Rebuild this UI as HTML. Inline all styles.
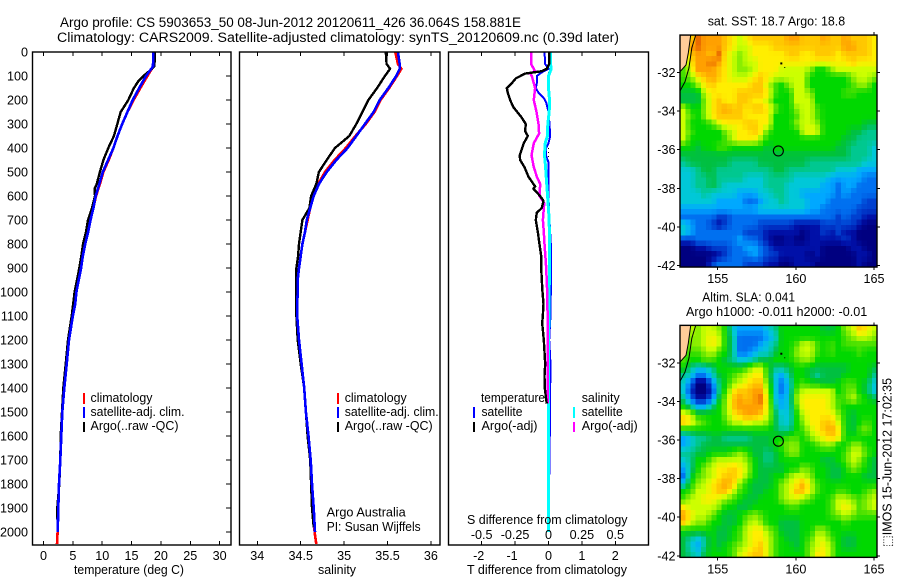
<!DOCTYPE html>
<html>
<head>
<meta charset="utf-8">
<title>Argo profile CS 5903653_50</title>
<style>
html,body{margin:0;padding:0;background:#fff;}
svg{display:block;}
text{font-family:"Liberation Sans",sans-serif;font-size:12.6px;fill:#000;}
.t{font-size:13.4px;}
</style>
</head>
<body>
<svg id="chart" xmlns="http://www.w3.org/2000/svg" width="900" height="580" viewBox="0 0 900 580">
<rect x="0" y="0" width="900" height="580" fill="#fff"/>
<text class="t" x="60" y="27" textLength="461" lengthAdjust="spacingAndGlyphs">Argo profile: CS 5903653_50 08-Jun-2012 20120611_426 36.064S 158.881E</text>
<text class="t" x="57" y="42" textLength="562" lengthAdjust="spacingAndGlyphs">Climatology: CARS2009. Satellite-adjusted climatology: synTS_20120609.nc (0.39d later)</text>
<g id="maps"></g>
<g id="plots"></g>

<text x="74" y="574" textLength="110" lengthAdjust="spacingAndGlyphs">temperature (deg C)</text>
<text x="318" y="574" textLength="38" lengthAdjust="spacingAndGlyphs">salinity</text>
<text x="467" y="574" textLength="160" lengthAdjust="spacingAndGlyphs">T difference from climatology</text>
<text x="467" y="524" textLength="160.5" lengthAdjust="spacingAndGlyphs">S difference from climatology</text>

<g>
<rect x="83" y="393" width="2" height="11" fill="#f00"/>
<rect x="83" y="407" width="2" height="11" fill="#00f"/>
<rect x="83" y="422" width="2" height="10" fill="#000"/>
<text x="90.5" y="402" textLength="62" lengthAdjust="spacingAndGlyphs">climatology</text>
<text x="90.5" y="416" textLength="94" lengthAdjust="spacingAndGlyphs">satellite-adj. clim.</text>
<text x="90.5" y="430" textLength="88" lengthAdjust="spacingAndGlyphs">Argo(..raw -QC)</text>
</g>
<g>
<rect x="337" y="393" width="2" height="11" fill="#f00"/>
<rect x="337" y="407" width="2" height="11" fill="#00f"/>
<rect x="337" y="422" width="2" height="10" fill="#000"/>
<text x="344.7" y="402" textLength="62" lengthAdjust="spacingAndGlyphs">climatology</text>
<text x="344.7" y="416" textLength="94" lengthAdjust="spacingAndGlyphs">satellite-adj. clim.</text>
<text x="344.7" y="430" textLength="88" lengthAdjust="spacingAndGlyphs">Argo(..raw -QC)</text>
<text x="326.7" y="516.5" textLength="79" lengthAdjust="spacingAndGlyphs">Argo Australia</text>
<text x="326.7" y="531" textLength="94" lengthAdjust="spacingAndGlyphs">PI: Susan Wijffels</text>
</g>
<g>
<rect x="473" y="407" width="2" height="11" fill="#00f"/>
<rect x="473" y="422" width="2" height="10" fill="#000"/>
<rect x="573" y="407" width="2" height="11" fill="#0ff"/>
<rect x="573" y="422" width="2" height="10" fill="#f0f"/>
<text x="481" y="402" textLength="64" lengthAdjust="spacingAndGlyphs">temperature</text>
<text x="481.5" y="416" textLength="41" lengthAdjust="spacingAndGlyphs">satellite</text>
<text x="481.5" y="430" textLength="56" lengthAdjust="spacingAndGlyphs">Argo(-adj)</text>
<text x="581.7" y="402" textLength="38" lengthAdjust="spacingAndGlyphs">salinity</text>
<text x="581.7" y="416" textLength="41" lengthAdjust="spacingAndGlyphs">satellite</text>
<text x="581.7" y="430" textLength="56" lengthAdjust="spacingAndGlyphs">Argo(-adj)</text>
</g>

<text x="707.7" y="25.5" textLength="137.5" lengthAdjust="spacingAndGlyphs">sat. SST: 18.7 Argo: 18.8</text>
<text x="702.3" y="301.7" textLength="92.7" lengthAdjust="spacingAndGlyphs">Altim. SLA: 0.041</text>
<text x="686" y="316" textLength="181.3" lengthAdjust="spacingAndGlyphs">Argo h1000: -0.011 h2000: -0.01</text>
<text transform="translate(891.5,547) rotate(-90)" x="0" y="0" textLength="169" lengthAdjust="spacingAndGlyphs">⬚IMOS 15-Jun-2012 17:02:35</text>
</svg>

<script>
// ---- profile depths (m) ----
const tempDepths = [0,60,100,150,200,250,300,350,400,450,500,550,600,650,700,750,800,850,900,950,1000,1050,1100,1200,1300,1400,1500,1600,1700,1800,1900,2000];
const climDepths = [0,60,100,150,200,250,300,350,400,450,500,550,600,650,700,750,800,850,900,950,1000,1050,1100,1200,1300,1400,1500,1600,1700,1800,1900,2000,2050];
const argoTempDepths = [0,60,80,100,120,150,200,250,300,350,400,450,500,550,570,600,650,700,750,800,850,900,950,1000,1100,1200,1300,1400,1500,1600,1700,1800,1900,1990];
const argoSalDepths = [0,50,70,100,150,200,250,300,350,400,450,500,550,600,650,700,750,800,850,900,950,1000,1100,1200,1300,1400,1500,1600,1700,1800,1900,1980];
const salDepths = [0,50,70,100,150,200,250,300,350,400,450,500,550,600,650,700,750,800,850,900,950,1000,1050,1100,1200,1300,1400,1500,1600,1700,1800,1900,2000];
const climSalDepths = [0,50,70,100,150,200,250,300,350,400,450,500,550,600,650,700,750,800,850,900,950,1000,1050,1100,1200,1300,1400,1500,1600,1700,1800,1900,2000,2050];

// ---- temperature panel (deg C) ----
const tempClim = [18.75,18.7,17.7,16.5,15.35,14.3,13.4,12.6,11.9,11.1,10.2,9.6,8.95,8.5,8.0,7.55,7.1,6.7,6.4,6.0,5.6,5.4,5.0,4.35,3.95,3.55,3.2,3.03,2.87,2.64,2.52,2.4,2.3];
const tempSat = [18.7,18.65,17.46,16.3,15.2,14.3,13.4,12.6,11.9,11.0,10.1,9.5,8.9,8.5,8.0,7.6,7.1,6.7,6.4,6.0,5.6,5.4,5.0,4.35,3.95,3.55,3.2,3.03,2.87,2.64,2.52,2.42];
const tempArgo = [19.0,18.9,18.0,17.0,16.2,15.4,14.45,13.15,12.57,12.0,11.04,10.2,9.6,9.06,8.7,8.77,8.26,7.58,7.24,6.73,6.44,6.1,5.7,5.3,4.8,4.17,3.78,3.37,3.15,2.93,2.87,2.7,2.35,2.4];

// ---- salinity panel ----
const salClim = [35.59,35.62,35.66,35.61,35.52,35.42,35.35,35.25,35.13,35.02,34.89,34.78,34.70,34.64,34.61,34.58,34.55,34.52,34.50,34.48,34.465,34.465,34.46,34.46,34.48,34.51,34.54,34.56,34.59,34.615,34.63,34.65,34.66,34.68];
const salSat = [35.62,35.64,35.64,35.6,35.51,35.41,35.34,35.24,35.14,35.04,34.91,34.80,34.71,34.65,34.61,34.57,34.55,34.52,34.50,34.48,34.465,34.465,34.46,34.46,34.48,34.51,34.54,34.56,34.59,34.615,34.63,34.65,34.665];
const salArgo = [35.48,35.49,35.53,35.47,35.38,35.28,35.21,35.14,35.06,34.895,34.80,34.71,34.68,34.62,34.6,34.52,34.50,34.48,34.47,34.45,34.45,34.45,34.45,34.465,34.5,34.54,34.56,34.58,34.61,34.62,34.63,34.65];

// ---- difference panel ----
const dTArgoDepths = [0,50,70,80,90,110,130,150,170,200,230,270,300,330,350,380,430,450,480,520,560,570,600,620,650,670,700,750,800,850,900,950,1000,1050,1100,1130,1200,1300,1350,1400,1450,1465];
const dTArgo = [0.02,0.02,-0.05,-0.2,-0.7,-0.98,-1.1,-1.25,-1.22,-1.15,-1.05,-0.82,-0.68,-0.7,-0.62,-0.74,-0.86,-0.85,-0.72,-0.6,-0.4,-0.45,-0.25,-0.15,-0.2,-0.35,-0.38,-0.32,-0.27,-0.22,-0.22,-0.2,-0.18,-0.15,-0.17,-0.19,-0.14,-0.1,-0.12,-0.11,-0.07,-0.05];
const dSArgoDepths = [0,50,80,90,100,150,200,250,300,340,380,430,480,520,550,600,630,700,750,800,900,1000,1100,1300,1465];
const dSArgo = [-0.13,-0.13,-0.1,-0.137,-0.125,-0.1,-0.11,-0.09,-0.075,-0.07,-0.11,-0.127,-0.11,-0.087,-0.062,-0.067,-0.032,-0.042,-0.035,-0.03,-0.017,-0.01,-0.007,-0.007,-0.007];
const dTSatDepths = [0,50,70,85,100,130,150,170,190,210,250,300,350,380,400,430,460,600,700,800,900,1000,1100,1150,1200,1300,1400,1465,2000];
const dTSat = [-0.12,-0.1,0,-0.2,-0.35,-0.35,-0.38,-0.3,-0.15,-0.07,0,0.03,0.05,0,-0.07,-0.08,0,0,0.03,0.07,0.08,0.07,0.06,0.04,0.02,0.06,0.05,0.05,0];
const dSSatDepths = [0,50,70,100,150,200,250,300,350,380,430,480,520,560,600,700,800,900,1000,1100,1465,2000];
const dSSat = [0.015,0.015,0.02,0,0,0.0075,0.005,-0.005,-0.0075,-0.025,-0.03,-0.022,-0.017,-0.012,-0.007,0.005,0.007,0.007,0.005,0.002,0,0];
const zeroLineDepths = [0,2000];
const zeroLineValues = [0,0];

// ---- tick labels ----
const depthTicks = [0,100,200,300,400,500,600,700,800,900,1000,1100,1200,1300,1400,1500,1600,1700,1800,1900,2000];
const tempTicks = [0,5,10,15,20,25,30];
const salTicks = ["34","34.5","35","35.5","36"];
const dTTicks = [-2,-1,0,1,2];
const dSTicks = ["-0.5","-0.25","0","0.25","0.5"];
const mapLonTicks = [155,160,165];
const mapLatTicks = [-32,-34,-36,-38,-40,-42];

// ---- map profile position and markers ----
const argoLon = 158.881;
const argoLat = -36.064;
const landLon = [152.59,153.27,153.12,152.97,152.59];
const landLat = [-30.06,-30.06,-30.99,-31.61,-31.96];
const isobathLon = [153.59,153.34,153.16,152.91,152.59];
const isobathLat = [-30.06,-30.73,-31.77,-32.48,-32.96];
const islandLon = [159.07,159.29];
const islandLat = [-31.53,-31.74];

// ---- gridded map values, colour level per cell, north to south ----
const sstGrid = [
[12,12,15,14,14,14,13,12,11,12,13,13,13,13,13,14,14,13,13,13,14,13,13,14,13,13,13,12],
[12,14,15,14,14,14,13,12,11,11,12,12,12,13,13,13,13,13,13,13,13,13,13,14,14,13,13,12],
[11,13,14,14,13,15,12,11,10,11,12,12,12,12,12,13,13,12,12,13,13,13,12,13,13,13,13,12],
[10,12,14,14,15,14,12,11,10,11,11,12,12,12,12,12,12,12,12,12,12,12,12,12,13,12,12,12],
[9,11,14,14,14,13,12,11,10,10,11,12,12,12,11,11,11,11,10,8,8,10,11,11,11,11,11,11],
[9,10,12,13,14,13,12,11,11,11,12,13,12,11,11,11,11,11,8,8,8,8,8,8,10,11,11,10],
[8,8,10,12,13,12,12,12,12,12,13,13,11,9,8,10,11,11,8,8,8,8,8,8,9,10,10,8],
[7,7,7,11,12,12,12,12,13,13,13,13,12,9,8,8,11,11,10,8,8,8,8,9,9,8,8,8],
[7,7,7,10,12,13,12,12,13,13,12,12,11,8,8,8,11,11,11,8,8,8,8,8,8,8,8,8],
[11,8,8,10,12,13,14,13,13,12,13,13,12,10,8,8,10,11,11,9,8,8,8,8,8,8,8,8],
[11,9,8,10,12,13,13,13,13,12,12,12,12,8,8,8,9,11,11,9,8,8,8,8,8,8,8,8],
[11,8,8,8,9,11,12,12,12,13,13,12,12,8,8,8,10,11,11,10,8,8,8,8,8,8,7,7],
[11,9,8,8,8,8,10,11,12,12,13,12,9,8,8,8,8,11,12,11,8,8,8,8,7,7,6,6],
[11,8,8,8,8,8,9,11,12,12,12,10,8,8,8,8,8,8,8,8,8,8,8,7,7,6,6,6],
[8,8,7,8,8,9,9,8,8,8,8,8,7,8,8,8,8,8,8,8,8,8,7,7,6,6,6,5],
[7,7,7,7,7,7,7,7,7,7,7,7,7,7,7,7,7,7,7,7,7,7,7,7,6,6,6,5],
[6,7,7,7,7,7,7,6,6,6,6,7,7,7,7,7,7,7,6,6,6,6,6,6,6,6,5,5],
[5,5,6,7,7,6,6,6,6,6,6,6,6,7,7,6,6,6,6,6,6,6,5,5,5,4,4,4],
[5,5,6,6,7,6,6,6,6,5,5,5,6,6,6,6,5,5,5,5,5,4,4,4,4,4,3,3],
[5,5,6,6,7,6,5,5,5,5,5,5,6,6,6,5,5,5,5,5,4,4,3,4,4,3,3,3],
[5,5,5,6,5,5,5,5,4,4,4,5,5,6,6,5,5,4,4,4,4,4,3,4,3,3,3,3],
[5,5,5,5,5,4,4,4,4,3,3,4,5,5,6,5,5,5,4,4,4,3,3,3,3,3,2,2],
[4,4,4,4,4,4,4,4,4,4,4,5,5,5,5,5,5,5,4,4,3,3,3,3,3,2,2,2],
[3,3,3,3,3,2,2,3,3,3,3,3,3,3,3,3,3,3,3,3,3,3,2,3,2,2,1,1],
[5,4,3,3,2,1,2,3,3,3,3,2,2,2,2,2,1,1,1,1,2,2,2,2,2,1,0,0],
[5,4,3,3,3,3,3,3,3,2,2,2,1,1,1,1,1,0,1,1,2,1,2,1,1,0,0,0],
[2,2,3,3,3,3,3,3,4,3,3,2,1,0,0,1,0,0,1,1,1,1,1,2,1,0,0,0],
[0,0,1,1,2,2,2,3,3,4,4,3,2,1,1,1,1,1,1,1,0,0,0,0,1,1,0,0],
[0,0,0,0,0,1,2,3,3,3,4,3,2,2,1,1,1,1,0,1,0,0,0,0,0,1,1,0],
[0,0,0,0,2,3,3,3,3,2,2,2,1,1,0,0,1,1,1,0,0,0,0,0,0,1,0,0]
];
const slaGrid = [
[10,11,10,11,11,10,8,5,4,4,4,4,5,6,8,8,8,8,8,8,7,7,8,10,11,13,12,11],
[10,10,10,11,12,11,8,6,3,3,3,3,4,5,8,8,8,8,8,8,8,8,8,9,10,11,11,10],
[9,10,10,11,12,11,8,6,3,3,3,4,5,6,8,8,9,11,11,9,8,9,8,9,9,9,9,9],
[9,9,9,10,11,9,8,6,3,3,4,5,5,7,8,8,10,11,11,9,8,9,8,8,8,9,8,8],
[9,8,8,9,9,8,7,6,5,5,6,7,7,8,8,8,9,10,10,8,8,8,8,8,8,8,8,8],
[8,6,5,5,6,8,8,8,8,9,11,11,8,6,6,7,8,8,7,7,7,7,7,7,8,8,8,7],
[6,5,3,3,5,7,8,9,10,11,12,12,8,5,4,6,8,8,7,6,7,7,7,8,8,8,8,6],
[5,3,0,0,3,6,8,10,11,12,13,13,9,5,3,5,8,9,8,8,7,7,8,9,9,8,7,5],
[5,2,0,0,2,6,9,12,13,13,14,14,10,5,3,5,9,11,11,11,11,11,8,9,10,8,7,5],
[6,3,1,1,3,7,10,13,14,13,14,15,11,5,4,5,10,12,12,12,12,11,9,9,11,9,8,7],
[8,6,4,4,6,8,10,13,14,14,14,14,11,6,4,5,9,12,12,12,12,11,9,8,8,8,8,8],
[12,11,8,8,8,8,10,12,13,14,14,13,11,7,5,5,8,11,12,12,12,12,10,8,7,8,8,8],
[13,12,10,9,8,8,9,11,11,12,11,11,10,7,5,5,8,10,12,12,13,13,11,8,7,8,9,8],
[8,8,8,8,8,8,8,8,8,8,8,8,8,7,6,6,8,9,11,12,13,14,12,8,7,9,10,8],
[4,5,6,6,7,7,6,6,6,6,7,7,7,8,8,9,9,8,10,11,12,13,12,8,8,8,8,8],
[4,5,6,7,7,7,7,7,7,7,7,7,7,8,9,10,10,8,8,9,10,10,8,8,10,10,8,8],
[6,6,7,7,8,8,8,9,10,9,7,7,6,7,8,10,10,8,8,8,8,8,8,9,11,11,9,8],
[5,6,8,8,10,11,11,11,11,10,8,7,6,7,8,8,8,8,8,8,7,7,8,9,11,10,8,7],
[4,6,8,10,11,12,12,13,12,11,8,7,7,7,7,8,8,10,9,8,8,7,7,8,10,9,8,7],
[3,7,9,10,11,12,13,13,12,10,8,7,7,8,8,10,11,11,10,8,8,7,7,8,8,8,7,7],
[5,8,10,11,12,13,14,13,10,8,7,7,7,8,10,11,12,14,11,9,8,8,8,8,8,8,8,8],
[8,9,11,11,12,13,13,11,9,8,7,7,8,8,10,11,13,13,11,9,8,8,9,9,8,8,9,10],
[9,11,11,12,12,11,10,9,8,7,7,8,8,8,10,11,11,10,9,8,8,9,11,11,10,9,10,11],
[12,11,11,11,11,10,8,8,7,7,8,8,8,8,8,9,9,8,8,8,8,9,11,12,11,9,10,11],
[14,12,11,11,10,8,7,7,8,9,10,9,8,8,8,8,8,8,8,8,8,9,10,11,10,9,9,9],
[13,11,10,10,8,8,7,7,8,10,11,10,8,8,7,7,7,8,8,8,8,8,8,9,8,8,8,8],
[8,8,8,8,8,7,7,8,9,11,12,12,10,9,7,7,7,8,8,10,10,8,8,8,8,8,8,8],
[7,6,5,6,8,7,7,8,9,11,12,12,11,9,8,7,7,8,9,11,11,9,8,7,7,8,8,8],
[7,5,4,6,8,7,8,9,10,11,12,13,11,9,8,8,7,8,10,11,12,10,8,7,7,8,8,8],
[7,6,5,7,8,8,8,9,11,12,13,13,11,9,8,8,8,8,10,12,12,10,8,8,8,8,8,8]
];
const levelColors = ["#000080","#0010a8","#0040d0","#0070f0","#00a8ff","#00c8d8","#00c890","#00c040","#00d800","#44e000","#88ee00","#ccff00","#ffee00","#ffc800","#ffa000","#e86800"];

const SVGNS = "http://www.w3.org/2000/svg";
const plots = document.getElementById("plots");
const maps = document.getElementById("maps");

function mk(tag, attrs, parent) {
  const el = document.createElementNS(SVGNS, tag);
  for (const k in attrs) el.setAttribute(k, attrs[k]);
  parent.appendChild(el);
  return el;
}

// axis functions
const TOP = 52, BOT = 545;
const yDepth = d => TOP + 0.24 * d;
const xTemp = t => 43.5 + 5.87 * t;
const xSal = s => 257.3 + 86.8 * (s - 34);
const xDT = t => 548.5 + 33.4 * t;
const xDS = s => 548.5 + 133.6 * s;
const xLon = lon => 717.7 + 15.63 * (lon - 155);
const yLat = (lat, off) => 149.7 + off + 19.3 * (-36 - lat);

function profile(depths, values, xf, color, width, name, dash) {
  const pts = depths.map((d, i) => xf(values[i]).toFixed(1) + "," + yDepth(d).toFixed(1)).join(" ");
  const attrs = {points: pts, fill: "none", stroke: color, "stroke-width": width, "shape-rendering": "crispEdges"};
  if (dash) attrs["stroke-dasharray"] = dash;
  const el = mk("polyline", attrs, plots);
  
  
}

function frame(x0, x1, y0, y1, name) {
  const r = mk("rect", {x: x0, y: y0, width: x1 - x0, height: y1 - y0, fill: "none", stroke: "#000", "stroke-width": 1.4}, plots);
  
  
}

function label(parent, x, y, str, anchor, name) {
  const t = mk("text", {x: x, y: y, "text-anchor": anchor}, parent);
  t.textContent = String(str);
  
  
}

function tick(parent, x1, y1, x2, y2) {
  const l = mk("line", {x1: x1, y1: y1, x2: x2, y2: y2, stroke: "#000", "stroke-width": 1, "shape-rendering": "crispEdges"}, parent);
  
  
}

// panel 1 temperature
profile(climDepths, tempClim, xTemp, "#f00", 2.6, "climatology-temperature-line");
profile(argoTempDepths, tempArgo, xTemp, "#000", 2.4, "argo-temperature-line");
profile(tempDepths, tempSat, xTemp, "#00f", 2.6, "satellite-temperature-line");
frame(32.5, 231, TOP, BOT, "temperature-plot-frame");
tempTicks.forEach(t => {
  tick(plots, xTemp(t), TOP, xTemp(t), TOP + 4);
  tick(plots, xTemp(t), BOT, xTemp(t), BOT - 4);
  label(plots, xTemp(t), 560, t, "middle", "temperature-tick-label");
});
depthTicks.forEach(d => {
  tick(plots, 231, yDepth(d), 226, yDepth(d));
  label(plots, 28, yDepth(d) + 4.5, d, "end", "depth-tick-label");
});

// panel 2 salinity
profile(climSalDepths, salClim, xSal, "#f00", 2.6, "climatology-salinity-line");
profile(argoSalDepths, salArgo, xSal, "#000", 2.4, "argo-salinity-line");
profile(salDepths, salSat, xSal, "#00f", 2.6, "satellite-salinity-line");
frame(239.5, 440, TOP, BOT, "salinity-plot-frame");
salTicks.forEach(s => {
  const x = xSal(parseFloat(s));
  tick(plots, x, TOP, x, TOP + 4);
  tick(plots, x, BOT, x, BOT - 4);
  label(plots, x, 560, s, "middle", "salinity-tick-label");
});

// panel 3 differences
profile(zeroLineDepths, zeroLineValues, xDT, "#000", 1, "zero-reference-line", "1 3");
profile(dTSatDepths, dTSat, xDT, "#00f", 2, "satellite-t-difference-line");
profile(dSSatDepths, dSSat, xDS, "#0ff", 3, "satellite-s-difference-line");
profile(dSArgoDepths, dSArgo, xDS, "#f0f", 2.5, "argo-s-difference-line");
profile(dTArgoDepths, dTArgo, xDT, "#000", 2.4, "argo-t-difference-line");
frame(448.5, 648.5, TOP, BOT, "difference-plot-frame");
dTTicks.forEach(t => {
  tick(plots, xDT(t), TOP, xDT(t), TOP + 4);
  tick(plots, xDT(t), BOT, xDT(t), BOT - 4);
  label(plots, xDT(t) - (t < 0 ? 3 : 0), 560, t, "middle", "t-difference-tick-label");
});
dSTicks.forEach(s => {
  label(plots, xDS(parseFloat(s)), 539, s, "middle", "s-difference-tick-label");
});

// colour scale: level value to colour, continuous between palette stops
function hexToRgb(h) {
  return [parseInt(h.slice(1, 3), 16), parseInt(h.slice(3, 5), 16), parseInt(h.slice(5, 7), 16)];
}
function levelColor(v) {
  const n = levelColors.length - 1;
  const c = Math.max(0, Math.min(n, v));
  const i = Math.min(n - 1, Math.floor(c));
  const f = c - i;
  const a = hexToRgb(levelColors[i]);
  const b = hexToRgb(levelColors[i + 1]);
  return "rgb(" + a.map((p, k) => Math.round(p + (b[k] - p) * f)).join(",") + ")";
}
// sample a grid at fractional row/col
function sampleGrid(grid, r, c) {
  const nr = grid.length, nc = grid[0].length;
  const rr = Math.max(0, Math.min(nr - 1, r)), cc = Math.max(0, Math.min(nc - 1, c));
  const r0 = Math.min(nr - 2, Math.floor(rr)), c0 = Math.min(nc - 2, Math.floor(cc));
  const fr = rr - r0, fc = cc - c0;
  return (grid[r0][c0] * (1 - fc) + grid[r0][c0 + 1] * fc) * (1 - fr) + (grid[r0 + 1][c0] * (1 - fc) + grid[r0 + 1][c0 + 1] * fc) * fr;
}

// maps
const LON0 = 152.6, LON1 = 165.2, LAT0 = -30.06, LAT1 = -42.08;
const PIXEL_COLS = 38, PIXEL_ROWS = 44;
function drawMap(grid, off, prefix) {
  const g = mk("g", {}, maps);
  
  
  const dLon = (LON1 - LON0) / PIXEL_COLS, dLat = (LAT0 - LAT1) / PIXEL_ROWS;
  for (let r = 0; r < PIXEL_ROWS; r++) {
    for (let c = 0; c < PIXEL_COLS; c++) {
      const v = sampleGrid(grid, (r + 0.5) / PIXEL_ROWS * grid.length - 0.5, (c + 0.5) / PIXEL_COLS * grid[0].length - 0.5);
      const x0 = xLon(LON0 + c * dLon), x1 = xLon(LON0 + (c + 1) * dLon);
      const y0 = yLat(LAT0 - r * dLat, off), y1 = yLat(LAT0 - (r + 1) * dLat, off);
      const cell = mk("rect", {x: x0.toFixed(2), y: y0.toFixed(2), width: (x1 - x0 + 0.4).toFixed(2), height: (y1 - y0 + 0.4).toFixed(2), fill: levelColor(v), "shape-rendering": "crispEdges"}, g);
      
      
    }
  }
  const land = mk("polygon", {points: landLon.map((l, i) => xLon(l).toFixed(1) + "," + yLat(landLat[i], off).toFixed(1)).join(" "), fill: "#ffcc99", stroke: "none"}, g);
  
  
  const coast = mk("polyline", {points: landLon.slice(1).map((l, i) => xLon(l).toFixed(1) + "," + yLat(landLat[i + 1], off).toFixed(1)).join(" "), fill: "none", stroke: "#000", "stroke-width": 1}, g);
  
  
  const iso = mk("polyline", {points: isobathLon.map((l, i) => xLon(l).toFixed(1) + "," + yLat(isobathLat[i], off).toFixed(1)).join(" "), fill: "none", stroke: "#000", "stroke-width": 1}, g);
  
  
  islandLon.forEach((l, i) => {
    const s = i === 0 ? 1 : 0.5;
    const isl = mk("rect", {x: xLon(l) - s, y: yLat(islandLat[i], off) - s, width: s * 2, height: s * 2, fill: "#000"}, g);
    
    
  });
  const c = mk("circle", {cx: xLon(argoLon), cy: yLat(argoLat, off), r: 5, fill: "none", stroke: "#000", "stroke-width": 1.1}, g);
  
  
  const yTop = yLat(LAT0, off), yBot = yLat(LAT0, off) + 232;
  const f = mk("rect", {x: 680, y: yTop, width: 197, height: 232, fill: "none", stroke: "#000", "stroke-width": 1.4}, g);
  
  
  mapLonTicks.forEach(lon => {
    tick(g, xLon(lon), yTop, xLon(lon), yTop - 3);
    tick(g, xLon(lon), yBot, xLon(lon), yBot + 3);
    label(g, xLon(lon), yBot + 16, lon, "middle", "longitude-tick-label");
  });
  mapLatTicks.forEach(lat => {
    tick(g, 680, yLat(lat, off), 677, yLat(lat, off));
    tick(g, 877, yLat(lat, off), 880, yLat(lat, off));
    label(g, 675.5, yLat(lat, off) + 4.5, lat, "end", "latitude-tick-label");
  });
}
drawMap(sstGrid, 0, "sst");
drawMap(slaGrid, 290.3, "sla");
</script>
</body>
</html>
